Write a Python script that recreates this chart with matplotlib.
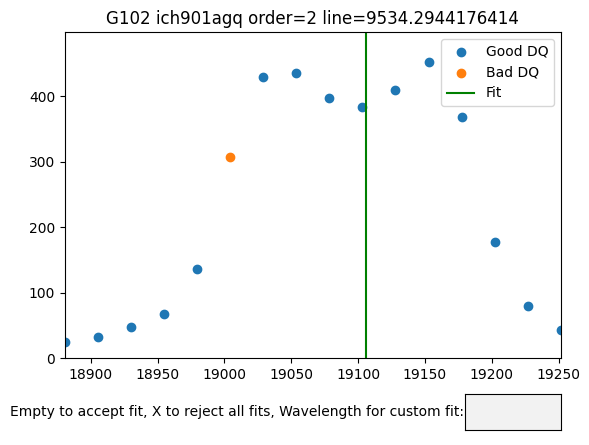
import numpy as np
import matplotlib
matplotlib.use("Agg")
import matplotlib.pyplot as plt
from matplotlib.widgets import TextBox

# wavelength grid and fluxes
wave = [18880.6, 18905.3, 18930.1, 18954.8, 18979.5, 19004.3, 19029.0, 19053.7,
        19078.5, 19103.2, 19127.9, 19152.7, 19177.4, 19202.1, 19226.9, 19251.6]
flux = [25, 32, 47, 67, 136, 308, 430, 436, 398, 383, 410, 453, 368, 178, 79, 43]
bad_dq = [False, False, False, False, False, True, False, False,
          False, False, False, False, False, False, False, False]
fit_wave = 19106.0

title = "G102 ich901agq order=2 line=9534.2944176414"
prompt = "Empty to accept fit, X to reject all fits, Wavelength for custom fit:"

wave = np.array(wave)
flux = np.array(flux)
bad = np.array(bad_dq)

fig = plt.figure(figsize=(5.89, 4.45), dpi=100)
ax = fig.add_axes([0.110, 0.1955, 0.842, 0.7325])
ax.scatter(wave[~bad], flux[~bad], label="Good DQ")
ax.scatter(wave[bad], flux[bad], label="Bad DQ")
ax.axvline(fit_wave, color="green", label="Fit")
ax.set_xlim(wave.min(), wave.max())
ax.set_ylim(0, flux.max() * 1.1)
ax.set_title(title)
ax.legend(loc="upper right")

box_ax = fig.add_axes([0.789, 0.034, 0.163, 0.081])
tb = TextBox(box_ax, prompt)

fig.savefig("out.png", dpi=100)
